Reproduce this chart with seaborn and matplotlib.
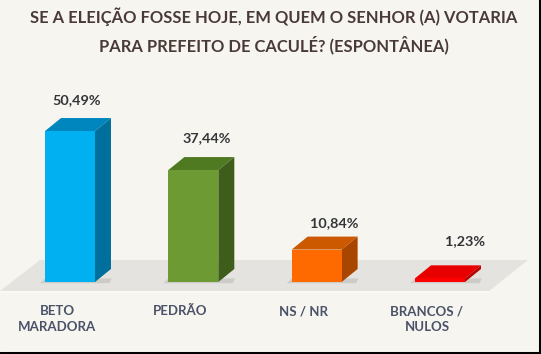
import matplotlib
matplotlib.use("Agg")
import matplotlib.pyplot as plt
import seaborn as sns
import pandas as pd
from matplotlib.patches import Polygon
from matplotlib.lines import Line2D

categories = ["BETO\nMARADORA", "PEDRÃO", "NS / NR", "BRANCOS /\nNULOS"]
values = [50.49, 37.44, 10.84, 1.23]
value_labels = ["50,49%", "37,44%", "10,84%", "1,23%"]
front_colors = ["#00b0f0", "#6e9a34", "#ff6a00", "#ff0000"]
top_colors = ["#0086bf", "#4f7a22", "#cc5800", "#e80000"]
side_colors = ["#006f9c", "#3e5c1a", "#a84600", "#b80000"]

title = "SE A ELEIÇÃO FOSSE HOJE, EM QUEM O SENHOR (A) VOTARIA\nPARA PREFEITO DE CACULÉ? (ESPONTÂNEA)"

W, H = 541, 354
BG = "#f7f5f0"

sns.set_theme(style="white")
plt.rcParams["font.family"] = ["Lato", "DejaVu Sans"]

fig = plt.figure(figsize=(W / 100, H / 100), dpi=100, facecolor=BG)
ax = fig.add_axes([0, 0, 1, 1])
ax.set_facecolor(BG)

# pixel mapping: category 0 at x=70px, spacing 123.3px; y=0 at 282px from top, 2.99 px per %
sx = 123.33
sy = 2.99
x0 = 70
y0 = H - 282

def px(xp, yp_top):
    return ((xp - x0) / sx, (H - yp_top - y0) / sy)

df = pd.DataFrame({"cat": categories, "val": values})
sns.barplot(data=df, x="cat", y="val", hue="cat", palette=front_colors,
            width=0.405, saturation=1, legend=False, ax=ax, zorder=3, linewidth=0)
bars = [p for c in ax.containers for p in c]

ax.set_xlim(-x0 / sx, (W - x0) / sx)
ax.set_ylim(-y0 / sy, (H - y0) / sy)

# floor
floor = Polygon([px(0, 291), px(40, 260), px(528, 260), px(489, 291)],
                closed=True, facecolor="#e4e3df", edgecolor="none", zorder=0)
ax.add_patch(floor)
ax.add_line(Line2D([px(0, 292)[0], px(489, 292)[0]], [px(0, 292)[1], px(489, 292)[1]],
                   color="#fbfaf7", lw=1.2, zorder=0.5))

dx = 16 / sx
dy = 13 / sy

for i, p in enumerate(bars):
    x = p.get_x()
    w = p.get_width()
    h = p.get_height()
    p.set_edgecolor("none")
    # shadow
    sh = Polygon([(x - 0.04, -0.4), (x + w + dx * 0.9, -0.4), (x + w + dx * 0.9 + 0.02, 1.2),
                  (x + 0.0, 1.2)], closed=True, facecolor="#bdbcb8", edgecolor="none",
                 alpha=0.6, zorder=1)
    ax.add_patch(sh)
    top = Polygon([(x, h), (x + w, h), (x + w + dx, h + dy), (x + dx, h + dy)],
                  closed=True, facecolor=top_colors[i], edgecolor="none", zorder=2)
    side = Polygon([(x + w, 0), (x + w + dx, dy), (x + w + dx, h + dy), (x + w, h)],
                   closed=True, facecolor=side_colors[i], edgecolor="none", zorder=2)
    ax.add_patch(top)
    ax.add_patch(side)
    cx = x + w / 2
    label_off = [7, 13, 18, 25][i] / sx
    label_y = [31, 32, 27, 37][i] / sy
    ax.text(cx + label_off, h + label_y, value_labels[i], ha="center", va="center",
            fontsize=10.4, fontweight="bold", color="#333538", zorder=5)
    # category label
    ax.text(cx - 13 / sx, px(0, 305)[1], categories[i], ha="center", va="top",
            fontsize=9.5, fontweight="bold", color="#4a5268", linespacing=1.4,
            zorder=5)

ax.set_xticks([])
ax.set_yticks([])
ax.set_xlabel("")
ax.set_ylabel("")
for s in ax.spines.values():
    s.set_visible(False)

fig.text(274 / W, 1 - 31 / H, title, ha="center", va="center", fontsize=11.9,
         fontweight="bold", color="#4a3a36", linespacing=1.6)

# black border right and bottom
fig.add_artist(Line2D([1 - 1.2 / W, 1 - 1.2 / W], [0, 1], transform=fig.transFigure,
                      color="black", lw=2.2))
fig.add_artist(Line2D([0, 1], [1.2 / H, 1.2 / H], transform=fig.transFigure,
                      color="black", lw=2.2))

fig.savefig("out.png", dpi=100, facecolor=BG)
